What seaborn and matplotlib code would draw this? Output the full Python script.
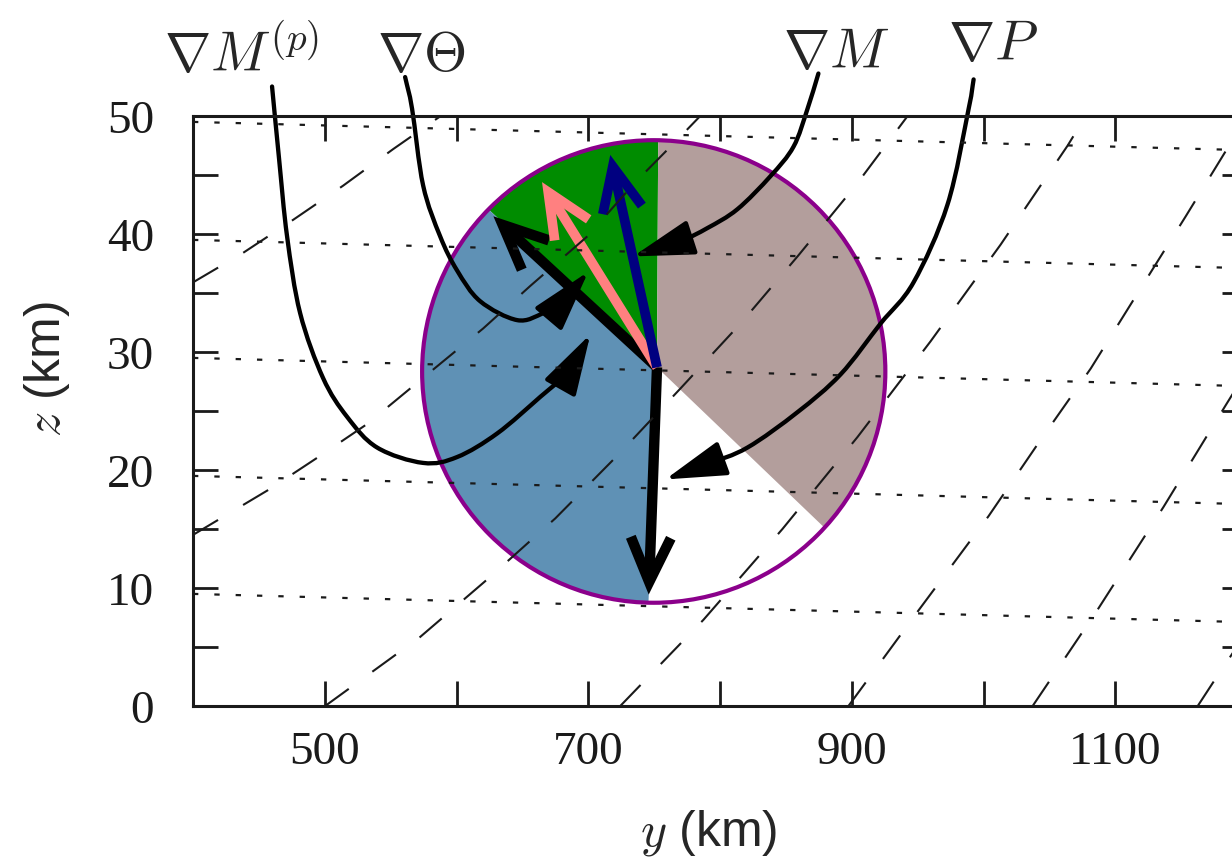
import numpy as np
import pandas as pd
import seaborn as sns
import matplotlib.pyplot as plt
from matplotlib.patches import Ellipse, Polygon, FancyArrowPatch, ArrowStyle
from matplotlib.path import Path

# ---- values (y and z in km) ----
x_major = [500, 700, 900, 1100]
x_minor = [400, 600, 800, 1000, 1200]
z_major = [0, 10, 20, 30, 40, 50]
z_minor = [5, 15, 25, 35, 45]

# isentropes (dotted): z at y=400 and at y=1200
theta_y = [400, 1200]
theta_left = [9.5, 19.5, 29.5, 39.5, 49.5]
theta_right = [7.1, 17.1, 27.1, 37.1, 47.1]

# angular momentum surfaces (dashed)
m_c_y = [400, 438, 476, 514, 552, 588]
m_c_z = [35.9, 38.4, 41.2, 44.1, 47.2, 50.0]
m_b_y = [400, 458.5, 496.5, 532.2, 587.6, 620.3, 656, 699.3, 735.8, 767.7, 785]
m_b_z = [14.5, 18.4, 21.2, 23.9, 29.0, 32.0, 35.6, 39.8, 44.4, 48.0, 50.0]
m_a_y = [500.3, 572.4, 624.1, 675.0, 722.8, 769.9, 815.5, 859.6, 902.9, 942.4]
m_a_z = [0, 5.85, 10.8, 15.9, 21.3, 26.9, 32.4, 38.2, 44.1, 50]
m_d_y = [724.3, 787.4, 847.4, 904.4, 959.8, 1013, 1063.9, 1077.6]
m_d_z = [0, 7.3, 15.0, 22.8, 30.9, 39.1, 47.5, 50]
m_f_y = [897.5, 950, 1003.9, 1041.8, 1081.4, 1117.1, 1153.5, 1189.2, 1200]
m_f_z = [0, 8.0, 16.1, 22.3, 28.6, 35.0, 41.5, 48.0, 50.0]
m_e_y = [1037.3, 1087.4, 1136.8, 1183.9, 1200]
m_e_z = [0, 8.3, 16.9, 25.5, 28.4]
m_g_y = [1162.6, 1174, 1200]
m_g_z = [0, 1.95, 6.3]

# gradient curves with arrows
gmp_y = [460.0, 465.3, 471.4, 481.3, 498.7, 517.0, 539.8, 574.7, 600.5, 630.9, 663.6, 686.4, 701.6]
gmp_z = [52.5, 46.4, 39.8, 33.3, 27.8, 24.5, 21.9, 20.6, 21.1, 23.1, 26.2, 28.5, 31.5]
gth_y = [561.0, 566.3, 574.7, 587.6, 600.5, 618.0, 646.1, 665.9, 681.0, 700.0]
gth_z = [53.3, 50.6, 44.1, 39.8, 36.9, 34.3, 32.7, 33.3, 34.3, 36.8]
gm_y = [874.7, 866.4, 855.8, 838.3, 813.2, 790.4, 769.9, 734.0]
gm_z = [53.6, 50.6, 47.4, 44.9, 42.1, 40.5, 39.4, 38.1]
gp_y = [992.5, 988.7, 972.7, 946.9, 921.8, 891.5, 858.8, 820.8, 790.4, 758.5]
gp_z = [53.1, 50.6, 42.5, 35.9, 32.4, 28.1, 24.9, 21.9, 20.5, 19.2]

labels = [r'$\nabla M^{(p)}$', r'$\nabla \Theta$', r'$\nabla M$', r'$\nabla P$']
label_y = [437, 573, 888, 1007]
label_z = [55.2, 55.1, 55.3, 56.0]

# circle of directions and its sectors (angles in screen degrees)
circ_center = (749.7, 28.35)
circ_ry, circ_rz = 175.8, 19.6
vec_origin = (752.2, 28.7)
sector_green = (88.9, 135.5)
sector_blue = (135.5, 268.7)
sector_brown = (-42.5, 88.9)

vec_up_black = (628.0, 41.5)
vec_down_black = (745.9, 9.44)
vec_pink = (664.9, 44.4)
vec_navy = (716.7, 46.7)

# ---- style ----
sns.set_theme(style="ticks")
plt.rcParams['font.family'] = ['Liberation Serif', 'DejaVu Serif']
plt.rcParams['mathtext.fontset'] = 'cm'

fig = plt.figure(figsize=(12.32, 8.62), dpi=100)
ax = fig.add_axes([193 / 1232, 155 / 862, 1054 / 1232, 590 / 862])
ax.set_xlim(400, 1200)
ax.set_ylim(0, 50)


def sector(a0, a1, color):
    t = np.radians(np.linspace(a0, a1, 120))
    arc = np.column_stack([circ_center[0] + circ_ry * np.cos(t),
                           circ_center[1] + circ_rz * np.sin(t)])
    pts = np.vstack([vec_origin, arc])
    ax.add_patch(Polygon(pts, closed=True, fc=color, ec='none', zorder=1))


def smooth_path(yy, zz):
    # Catmull-Rom curve through the read points, as cubic Bezier segments
    p = np.column_stack([yy, zz]).astype(float)
    ext = np.vstack([2 * p[0] - p[1], p, 2 * p[-1] - p[-2]])
    verts = [p[0]]
    codes = [Path.MOVETO]
    for i in range(1, len(ext) - 2):
        p0, p1, p2, p3 = ext[i - 1], ext[i], ext[i + 1], ext[i + 2]
        verts += [p1 + (p2 - p0) / 6, p2 - (p3 - p1) / 6, p2]
        codes += [Path.CURVE4] * 3
    return Path(np.array(verts), codes)


sector(*sector_green, '#008c00')
sector(*sector_blue, '#5f91b5')
sector(*sector_brown, '#b39e9c')

ax.add_patch(Ellipse(circ_center, 2 * circ_ry, 2 * circ_rz, fc='none',
                     ec='#8b008b', lw=3.0, zorder=3))

# gradient curves
curve_style = ArrowStyle('-|>', head_length=1.9, head_width=0.55)
for yy, zz in [(gmp_y, gmp_z), (gth_y, gth_z), (gm_y, gm_z), (gp_y, gp_z)]:
    ax.add_patch(FancyArrowPatch(path=smooth_path(yy, zz), arrowstyle=curve_style,
                                 mutation_scale=20, color='#000000', lw=3.1,
                                 clip_on=False, transform=ax.transData, zorder=4))

# vectors
vec_style = ArrowStyle('->', head_length=1.6, head_width=0.72)
for tip, col, lw in [(vec_up_black, '#000000', 7.5), (vec_down_black, '#000000', 7.5),
                     (vec_pink, '#ff8080', 7.0), (vec_navy, '#000080', 7.0)]:
    ax.add_patch(FancyArrowPatch(vec_origin, tip, arrowstyle=vec_style,
                                 mutation_scale=20, color=col, lw=lw,
                                 shrinkA=0, shrinkB=0, joinstyle='miter',
                                 capstyle='butt', zorder=5))

# isentropes (drawn over the vectors, as in the original)
for zl, zr in zip(theta_left, theta_right):
    sns.lineplot(x=theta_y, y=[zl, zr], ax=ax, color='k', lw=1.6,
                 linestyle=(0, (2.4, 7.2)), sort=False, estimator=None, zorder=6)

# M surfaces
for yy, zz in [(m_c_y, m_c_z), (m_b_y, m_b_z), (m_a_y, m_a_z), (m_d_y, m_d_z),
               (m_f_y, m_f_z), (m_e_y, m_e_z), (m_g_y, m_g_z)]:
    sns.lineplot(x=yy, y=zz, ax=ax, color='k', lw=1.5,
                 linestyle=(0, (14, 14)), sort=False, estimator=None, zorder=6)

for s, yy, zz in zip(labels, label_y, label_z):
    ax.text(yy, zz, s, fontsize=40, ha='center', va='center', clip_on=False)

# axes
ax.set_xticks(x_major)
ax.set_xticks(x_minor, minor=True)
ax.set_yticks(z_major)
ax.set_yticks(z_minor, minor=True)
ax.tick_params(which='both', direction='in', length=18, width=2, top=True,
               right=True, labelsize=34, color='k', labelcolor='k')
ax.tick_params(axis='x', pad=18)
ax.tick_params(axis='y', pad=28)
for sp in ax.spines.values():
    sp.set_linewidth(2.2)
    sp.set_color('k')
    sp.set_zorder(7)
ax.set_facecolor('white')

ax.set_xlabel(r'$y$ (km)', fontsize=36, family=['Liberation Sans'])
ax.set_ylabel(r'$z$ (km)', fontsize=36, family=['Liberation Sans'])
ax.xaxis.set_label_coords(0.4896, -0.171)
ax.yaxis.set_label_coords(-0.115, 0.573)

fig.savefig('out.png', dpi=100)
